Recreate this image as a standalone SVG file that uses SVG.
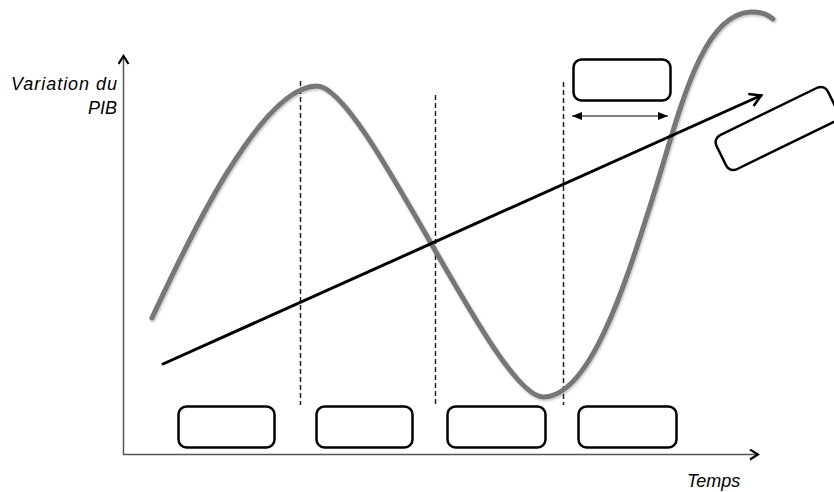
<svg xmlns="http://www.w3.org/2000/svg" width="834" height="492" viewBox="0 0 834 492">
  <style>
    .box { fill: #ffffff; stroke: #000000; stroke-width: 2.5; }
    .axis { fill: none; stroke: #555555; stroke-width: 1.5; }
    .dash { fill: none; stroke: #222222; stroke-width: 1.5; stroke-dasharray: 5 3; }
    .lbl { font-family: "Liberation Sans", Arial, sans-serif; font-style: italic; font-size: 18px; fill: #000000; }
  </style>
  <defs>
    <marker id="chev" viewBox="0 0 12 12" refX="10" refY="6" markerWidth="12" markerHeight="12" markerUnits="userSpaceOnUse" orient="auto">
      <path d="M2,1 L10,6 L2,11" fill="none" stroke="#000" stroke-width="2.2"/>
    </marker>
    <marker id="chevBig" viewBox="0 0 16 16" refX="13" refY="8" markerWidth="16" markerHeight="16" markerUnits="userSpaceOnUse" orient="auto">
      <path d="M2,1.5 L13,8 L2,14.5" fill="none" stroke="#000" stroke-width="2.6"/>
    </marker>
    <marker id="tri" viewBox="0 0 10 8" refX="10" refY="4" markerWidth="10" markerHeight="8" markerUnits="userSpaceOnUse" orient="auto-start-reverse">
      <path d="M0,0 L10,4 L0,8 Z" fill="#000"/>
    </marker>
    <filter id="soft" x="-5%" y="-5%" width="110%" height="110%">
      <feDropShadow dx="1" dy="1.5" stdDeviation="1.2" flood-color="#000" flood-opacity="0.25"/>
    </filter>
  </defs>

  <rect x="0" y="0" width="834" height="492" fill="#ffffff"/>

  <g id="axes">
    <line class="axis" x1="123.5" y1="455" x2="123.5" y2="56" marker-end="url(#chev)"/>
    <line class="axis" x1="123" y1="454.5" x2="758" y2="454.5" marker-end="url(#chev)"/>
  </g>

  <g id="labels">
    <text class="lbl" x="117" y="90" text-anchor="end" font-size="19" textLength="106" lengthAdjust="spacing">Variation du</text>
    <text class="lbl" x="117" y="114" text-anchor="end">PIB</text>
    <text class="lbl" x="687" y="487">Temps</text>
  </g>

  <g id="separators">
    <line class="dash" x1="300.5" y1="81" x2="300.5" y2="405"/>
    <line class="dash" x1="435.5" y1="95" x2="435.5" y2="405"/>
    <line class="dash" x1="563.5" y1="82" x2="563.5" y2="405"/>
  </g>

  <g id="cycle-curve">
    <path d="M152,318 C180,258 258,86 317,86 C365,86 495,397 543,397 C590,397 625,285 652,200 C679,115 700,15 750,12 C760,11.4 767,14 773,19" fill="none" stroke="#777777" stroke-width="5" stroke-linecap="round" filter="url(#soft)"/>
  </g>

  <g id="connectors">
    <line x1="163" y1="364" x2="761" y2="95.5" stroke="#000" stroke-width="3" stroke-linecap="round" marker-end="url(#chevBig)"/>
    <line x1="572" y1="116" x2="668" y2="116" stroke="#000" stroke-width="1.2" marker-start="url(#tri)" marker-end="url(#tri)"/>
  </g>

  <g id="box-1"><rect class="box" x="178.5" y="406.5" width="96" height="41" rx="8"/></g>
  <g id="box-2"><rect class="box" x="316.5" y="406.5" width="96" height="41" rx="8"/></g>
  <g id="box-3"><rect class="box" x="447.5" y="406.5" width="98" height="41" rx="8"/></g>
  <g id="box-4"><rect class="box" x="578.5" y="406.5" width="98" height="41" rx="8"/></g>
  <g id="box-top"><rect class="box" x="573.5" y="59.5" width="97" height="41" rx="8"/></g>
  <g id="box-tilted"><rect class="box" x="-62" y="-19" width="124" height="38" rx="8" transform="translate(777,128.5) rotate(-26)"/></g>
</svg>
